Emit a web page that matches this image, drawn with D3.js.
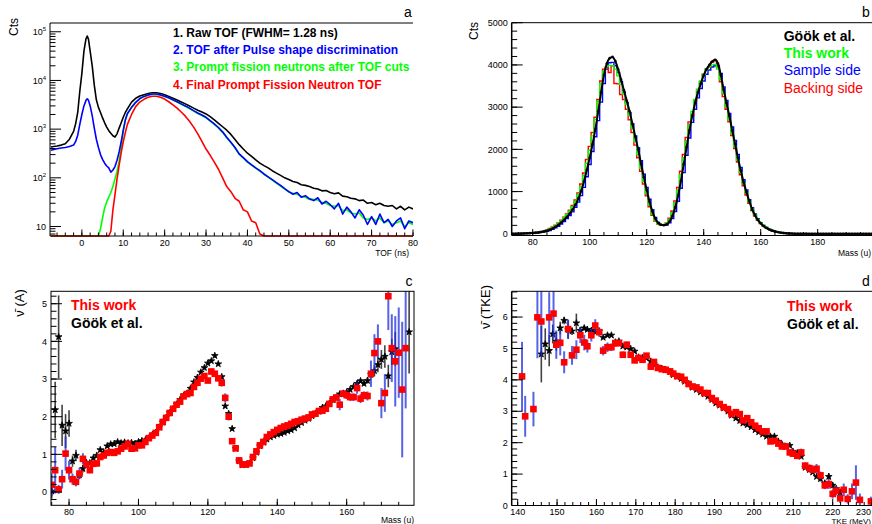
<!DOCTYPE html>
<html><head><meta charset="utf-8">
<script src="https://cdn.jsdelivr.net/npm/d3@7"></script>
<style>
body{margin:0;background:#fff}
svg{display:block}
text{font-family:"Liberation Sans",Arial,Helvetica,sans-serif;fill:#000}
</style>
</head><body>
<svg width="872" height="524"></svg>
<script>
// ---------------- Panel a : TOF spectra ----------------
const tofNs = [-7.5,-6,-5,-4,-3,-2,-1.5,-1,-0.5,0,0.5,1,1.3,1.6,2,2.5,3,3.5,4,4.5,5,5.5,6,6.5,7,7.5,8,8.5,9,9.5,10,10.5,11,
 12,13,14,15,16,17,18,19,20,21,22,23,24,25,26,27,28,29,30,31,32,33,34,35,36,37,38,39,40,41,42,43,44,45,46,
 47,48,49,50,51,52,53,54,55,56,57,58,59,60,61,62,63,64,65,66,67,68,69,70,71,72,73,74,75,76,77,78,79,80];
const rawTof = [430,450,470,500,620,900,1300,2200,6000,14000,40000,72000,82000,70000,40000,20000,8000,4000,2800,2200,1700,1350,1100,930,820,730,690,800,1050,1350,1750,2200,2600,
 3600,4300,4800,5100,5400,5600,5600,5400,5100,4700,4300,3950,3600,3300,3000,2700,2450,2250,2050,1800,
 1550,1320,1120,950,780,610,480,390,320,275,235,200,178,160,140,125,112,100,92,84,80,72,70,66,61,
 59,54,55,50,47,49,42,41,38,37,34,35,30,31,28,30,27,26,27,23,26,22,25,23];
const psdTof = [370,395,410,420,440,470,560,750,1250,2000,3000,3900,4200,3900,3000,1900,1050,620,420,300,240,200,175,160,130,145,170,230,340,550,950,1550,2100,
 2800,3550,4250,4700,5050,5250,5250,5050,4750,4400,4000,3650,3300,3000,2700,2400,2150,1950,1750,1500,
 1280,1080,880,680,540,420,310,260,215,185,160,140,120,105,92,80,70,60,52,46,50,40,43,37,34,
 39,29,33,28,23,30,18,25,20,15,22,17,11,16,11,18,12,14,10,13,15,9,13,12];
const promptTof = [0,0,0,0,0,0,0,0,0,0,0,0,0,0,0,0,0,0,0,9,15,24,32,40,50,66,95,135,220,420,900,1500,2050,
 2750,3500,4200,4650,5000,5200,5200,5000,4700,4350,3950,3600,3250,2950,2650,2350,2100,1900,1700,1460,
 1250,1050,860,660,530,410,305,255,210,182,158,137,118,103,90,78,68,59,51,48,46,42,40,36,36,
 35,31,30,27,26,27,21,22,19,18,19,15,14,15,13,15,12,13,11,12,13,10,12,11];
const finalTof = [0,0,0,0,0,0,0,0,0,0,0,0,0,0,0,0,0,0,0,0,0,0,0,4,8,22,45,95,180,330,550,850,1250,
 2000,2900,3600,4100,4500,4750,4750,4500,4150,3650,3150,2700,2250,1850,1450,1100,800,560,390,290,
 210,150,100,66,52,38,33,22,20,13,12,7,0,0,0,0,0,0,0,0,0,0,0,0,0,0,
 0,0,0,0,0,0,0,0,0,0,0,0,0,0,0,0,0,0,0,0,0,0,0,0];
const tofLegend = ["1. Raw TOF (FWHM= 1.28 ns)","2. TOF after Pulse shape discrimination","3. Prompt fission neutrons after TOF cuts","4. Final Prompt Fission Neutron TOF"];
const tofColors = ["#000000","#0000ff","#00ff00","#ff0000"];
const tofTickLabels = [0,10,20,30,40,50,60,70,80];
const tofDecades = [1,2,3,4,5];

// ---------------- Panel b : mass yield ----------------
const massBins = d3.range(73, 201);
const gookMass = [2,3,4,6,8,11,15,20,25,32, 42,55,70,95,125,165,210,265,330,400,
 480,575,690,830,1010,1240,1510,1800,2120,2480, 2900,3350,3760,4030,4160,4190,4090,3890,3650,3400,
 3150,2900,2600,2300,2000,1660,1340,1040,760,530, 360,260,215,205,225,290,420,620,900,1250,
 1650,2050,2450,2800,3100,3350,3560,3750,3900,4000, 4080,4120,4030,3760,3420,3100,2790,2450,2130,1800,
 1500,1220,990,770,580,440,330,250,185,140, 100,75,55,40,28,19,12,8,5,3,
 2,1,1,1,0,0,0,0,0,0, 0,0,0,0,0,0,0,0,0,0, 0,0,0,0,0,0,0,0];
const thisWorkMass = [3,4,6,8,10,14,19,25,32,40, 52,68,88,115,150,195,245,305,375,450,
 535,640,770,930,1130,1380,1670,1980,2320,2710, 3140,3560,3850,3960,3990,3980,3900,3740,3540,3310,
 3060,2800,2500,2190,1880,1550,1240,950,680,470, 320,240,205,210,250,340,500,730,1030,1400,
 1800,2200,2580,2900,3180,3420,3620,3780,3890,3960, 4000,4010,3900,3650,3320,3010,2700,2370,2060,1740,
 1450,1190,970,760,580,445,340,260,195,148, 110,82,60,44,31,21,14,9,6,4,
 2,1,1,0,0,0,0,0,0,0, 0,0,0,0,0,0,0,0,0,0, 0,0,0,0,0,0,0,0];
const sampleMass = [2,2,3,4,6,8,11,15,20,26, 34,45,58,78,105,140,180,230,290,360,
 435,520,625,750,905,1100,1350,1640,1950,2300, 2680,3120,3560,3900,4050,4060,3980,3820,3600,3360,
 3110,2870,2600,2320,2040,1730,1410,1100,820,570, 390,270,215,200,210,260,360,530,770,1080,
 1450,1860,2270,2640,2950,3220,3440,3620,3780,3880, 3950,3980,3990,3800,3480,3160,2850,2530,2210,1880,
 1570,1280,1040,810,620,470,355,265,200,150, 110,80,58,42,30,20,13,8,5,3,
 2,1,1,0,0,0,0,0,0,0, 0,0,0,0,0,0,0,0,0,0, 0,0,0,0,0,0,0,0];
const backingMass = [3,4,6,8,11,15,20,27,34,44, 57,74,96,125,160,205,260,320,395,470,
 560,670,800,970,1180,1440,1760,2070,2400,2760, 3180,3620,3900,3950,3820,3980,3560,3550,3300,3180,
 2950,2700,2400,2100,1800,1480,1180,900,640,440, 300,230,200,210,260,370,540,780,1100,1480,
 1880,2280,2650,2800,3150,3420,3600,3780,3900,3950, 4070,4100,3950,3600,3250,2950,2650,2330,2020,1700,
 1400,1140,920,720,550,420,320,245,185,140, 104,77,56,41,29,20,13,8,5,3,
 2,1,1,0,0,0,0,0,0,0, 0,0,0,0,0,0,0,0,0,0, 0,0,0,0,0,0,0,0];
const massLegend = ["Göök et al.","This work","Sample side","Backing side"];
const massTicks = [80,100,120,140,160,180];
const ctsTicks = [0,1000,2000,3000,4000,5000];

// ---------------- Panel c : nu-bar vs mass ----------------
const massRedC = d3.range(75, 178);
const nuRedC = [0.19,0.58,0.07,0.34,1.02,0.58,0.34,0.27,0.49,0.88,
 0.74,0.58,0.75,0.76,0.93,0.97,1.04,1.06,1.04,1.08,
 1.15,1.21,1.28,1.15,1.16,1.24,1.24,1.33,1.43,1.50,
 1.57,1.72,1.86,1.97,2.10,2.21,2.32,2.40,2.54,2.60,
 2.63,2.79,2.90,3.01,3.08,2.96,3.20,3.14,3.02,2.90,
 2.50,2.00,1.35,1.16,0.84,0.73,0.73,0.76,0.93,1.08,
 1.24,1.33,1.46,1.53,1.59,1.65,1.70,1.74,1.77,1.81,
 1.86,1.88,1.92,1.95,1.98,2.06,2.08,2.15,2.16,2.21,
 2.34,2.46,2.51,2.32,2.61,2.57,2.52,2.52,2.76,2.48,
 2.57,2.55,3.14,3.69,4.00,2.36,2.63,5.20,3.82,3.47,
 3.70,2.72,3.82];
const errRedC = [0.3,0.62,0.12,0.25,0.45,0.25,0.15,0.12,0.15,0.15,
 0.1,0.08,0.06,0.06,0.06,0.06,0.06,0.06,0.06,0.06,
 0.06,0.06,0.06,0.06,0.06,0.06,0.06,0.06,0.06,0.06,
 0.06,0.06,0.06,0.06,0.06,0.06,0.06,0.06,0.06,0.06,
 0.06,0.06,0.06,0.06,0.06,0.06,0.08,0.08,0.08,0.1,
 0.12,0.1,0.06,0.06,0.06,0.06,0.06,0.06,0.06,0.06,
 0.06,0.06,0.06,0.06,0.06,0.06,0.06,0.06,0.06,0.06,
 0.06,0.06,0.06,0.06,0.06,0.06,0.06,0.06,0.06,0.06,
 0.08,0.08,0.08,0.15,0.08,0.1,0.1,0.1,0.15,0.12,
 0.1,0.12,0.35,0.5,0.45,0.4,0.5,0.9,0.9,1.2,
 1.2,1.8,1.6];
const massBlackC = d3.range(75, 175).concat([178]);
const nuBlackC = [0.02,2.18,4.12,1.77,1.62,1.82,0.82,0.97,0.45,0.62,
 0.78,0.77,0.90,0.97,1.12,1.05,1.22,1.27,1.28,1.33,
 1.30,1.32,1.30,1.31,1.28,1.33,1.36,1.38,1.43,1.52,
 1.58,1.72,1.85,1.98,2.10,2.21,2.33,2.45,2.55,2.62,
 2.75,2.92,3.04,3.18,3.30,3.42,3.48,3.62,3.40,3.06,
 2.28,2.08,1.68,1.15,0.82,0.72,0.72,0.76,0.90,1.05,
 1.22,1.32,1.40,1.46,1.50,1.53,1.55,1.58,1.62,1.65,
 1.70,1.78,1.84,1.90,1.95,2.02,2.08,2.14,2.24,2.28,
 2.35,2.45,2.50,2.60,2.62,2.65,2.72,2.80,2.88,2.95,
 2.88,2.96,3.12,3.22,3.38,3.52,3.60,3.08,3.72,3.80,
 4.25];
const errBlackC = [0.2,0.75,1.1,0.55,0.45,0.35,0.15,0.15,0.1,0.1,
 0.05,0.05,0.05,0.05,0.05,0.05,0.05,0.05,0.05,0.05,
 0.05,0.05,0.05,0.05,0.05,0.05,0.05,0.05,0.05,0.05,
 0.05,0.05,0.05,0.05,0.05,0.05,0.05,0.05,0.05,0.05,
 0.05,0.05,0.05,0.05,0.05,0.05,0.05,0.05,0.05,0.05,
 0.05,0.05,0.05,0.05,0.05,0.05,0.05,0.05,0.05,0.05,
 0.05,0.05,0.05,0.05,0.05,0.05,0.05,0.05,0.05,0.05,
 0.05,0.05,0.05,0.05,0.05,0.05,0.05,0.05,0.05,0.05,
 0.05,0.05,0.05,0.05,0.05,0.05,0.05,0.05,0.05,0.05,
 0.06,0.08,0.1,0.15,0.2,0.25,0.3,0.3,0.35,0.45,
 1.1];
const massTicksC = [80,100,120,140,160];
const nuTicksC = [0,1,2,3,4,5];

// ---------------- Panel d : nu-bar vs TKE ----------------
const tkeRed = [141.1,141.9,144.0,145.0,146.0,148.0,149.1,149.8,150.8,151.8,152.8,153.8,154.9,155.9,156.9,157.7,158.7,159.7,160.7,161.7,
 162.8,163.8,164.8,165.7,166.7,167.7,168.7,169.7,170.7,171.7,172.7,173.8,174.6,175.6,176.6,177.6,178.7,179.5,180.5,181.5,
 182.4,183.4,184.4,185.4,186.4,187.4,188.3,189.3,190.3,191.3,192.3,193.4,194.3,195.4,196.4,197.2,198.3,199.3,200.3,201.2,
 202.2,203.2,204.2,205.2,206.2,207.1,208.1,209.1,209.9,211.0,212.0,213.0,214.1,214.9,215.9,216.9,218.0,219.0,220.0,220.9,
 221.9,222.8,223.8,224.9,225.9,226.9,229.7];
const nuRedD = [4.11,2.84,3.07,5.99,5.86,5.99,6.11,5.12,5.18,4.56,5.62,4.78,4.96,5.42,5.19,5.07,5.42,5.73,5.52,4.93,
 5.04,5.04,5.17,5.17,4.80,5.12,4.80,4.62,4.70,4.64,4.77,4.42,4.57,4.38,4.34,4.32,4.27,4.20,4.12,4.10,
 4.00,3.87,3.79,3.76,3.69,3.58,3.58,3.42,3.34,3.23,3.13,3.07,2.91,2.97,2.91,2.71,2.78,2.65,2.54,2.46,
 2.36,2.36,2.04,2.06,1.97,1.88,1.88,1.69,1.65,1.58,1.69,1.27,1.19,1.14,1.17,0.96,0.64,0.68,0.37,0.47,
 0.23,0.50,0.21,0.45,0.73,0.18,0.13];
const errRedD = [1.1,0.65,0.55,1.3,1.1,0.8,0.8,0.45,0.4,0.35,0.3,0.3,0.3,0.25,0.25,0.2,0.2,0.2,0.15,0.15,
 0.15,0.12,0.12,0.1,0.1,0.1,0.08,0.08,0.08,0.07,0.07,0.07,0.07,0.07,0.06,0.06,0.06,0.06,0.06,0.06,
 0.06,0.06,0.06,0.06,0.06,0.06,0.06,0.06,0.06,0.06,0.06,0.06,0.06,0.06,0.06,0.06,0.06,0.06,0.06,0.06,
 0.06,0.06,0.06,0.06,0.06,0.06,0.07,0.07,0.08,0.08,0.12,0.1,0.12,0.1,0.15,0.12,0.12,0.15,0.15,0.15,
 0.15,0.2,0.15,0.25,0.55,0.2,0.15];
const tkeBlack = [146.0,147.0,148.0,148.9,149.8,150.8,151.8,152.8,153.8,154.9,155.9,156.9,157.7,158.7,159.7,160.7,161.7,162.8,163.8,164.8,
 165.7,166.7,167.7,168.7,169.7,170.7,171.7,172.7,173.8,174.6,175.6,176.6,177.6,178.7,179.5,180.5,181.5,182.4,183.4,184.4,
 185.4,186.4,187.4,188.3,189.3,190.3,191.3,192.3,193.4,194.3,195.4,196.4,197.2,198.3,199.3,200.3,201.2,202.2,203.2,204.2,
 205.2,206.2,207.1,208.1,209.1,209.9,211.0,212.0,213.0,214.1,214.9,215.9,216.9,218.0,219.0,220.0,220.9,221.9];
const nuBlackD = [4.82,5.14,4.93,5.46,5.23,5.65,5.89,5.60,5.55,5.81,5.57,5.65,5.60,5.57,5.52,5.55,5.35,5.42,5.42,5.20,
 5.23,5.07,5.04,4.99,4.91,4.72,4.70,4.70,4.59,4.50,4.40,4.36,4.32,4.25,4.16,4.11,4.04,3.95,3.87,3.76,
 3.69,3.61,3.55,3.47,3.37,3.26,3.19,3.10,3.00,2.87,2.78,2.70,2.62,2.57,2.50,2.41,2.34,2.27,2.20,2.20,
 2.20,2.04,1.95,1.88,1.91,1.72,1.67,1.56,1.21,1.14,1.06,0.92,0.85,0.71,0.92,0.64,0.53,0.42];
const errBlackD = [0.9,0.5,0.5,0.3,0.3,0.2,0.12,0.3,0.12,0.3,0.12,0.08,0.05,0.05,0.05,0.05,0.05,0.05,0.05,0.05,
 0.05,0.05,0.05,0.05,0.05,0.05,0.05,0.05,0.05,0.05,0.05,0.05,0.05,0.05,0.05,0.05,0.05,0.05,0.05,0.05,
 0.05,0.05,0.05,0.05,0.05,0.05,0.05,0.05,0.05,0.05,0.05,0.05,0.05,0.05,0.05,0.05,0.05,0.05,0.05,0.05,
 0.05,0.05,0.05,0.05,0.05,0.05,0.05,0.05,0.05,0.05,0.05,0.05,0.08,0.08,0.1,0.1,0.1,0.1];
const tkeTicks = [140,150,160,170,180,190,200,210,220,230];
const nuTicksD = [0,1,2,3,4,5,6];
const nuLegend = ["This work","Göök et al."];

// =============== drawing ===============
const svg = d3.select("svg");
const FS = 9;

function yTicks(g, scale, x0, majors, minors, majLen, minLen, labels) {
  const t = g.append("g").attr("stroke","#000").attr("stroke-width",1);
  t.selectAll(".mi").data(minors).join("line").attr("class","mi")
    .attr("x1",x0).attr("x2",x0+minLen).attr("y1",d=>scale(d)).attr("y2",d=>scale(d));
  t.selectAll(".ma").data(majors).join("line").attr("class","ma")
    .attr("x1",x0).attr("x2",x0+majLen).attr("y1",d=>scale(d)).attr("y2",d=>scale(d));
  if (labels) g.append("g").selectAll("text").data(majors).join("text")
    .attr("x",x0-4).attr("y",d=>scale(d)).attr("dy","0.35em").attr("text-anchor","end")
    .attr("font-size",FS).attr("fill","#111").text((d,i)=>labels[i]);
}
function xTicks(g, scale, y0, majors, minors, majLen, minLen, labels, anchors) {
  const t = g.append("g").attr("stroke","#000").attr("stroke-width",1);
  t.selectAll(".mi").data(minors).join("line").attr("class","mi")
    .attr("y1",y0).attr("y2",y0-minLen).attr("x1",d=>scale(d)).attr("x2",d=>scale(d));
  t.selectAll(".ma").data(majors).join("line").attr("class","ma")
    .attr("y1",y0).attr("y2",y0-majLen).attr("x1",d=>scale(d)).attr("x2",d=>scale(d));
  if (labels) g.append("g").selectAll("text").data(majors).join("text")
    .attr("x",d=>Math.min(scale(d), 871)).attr("y",y0+9.5)
    .attr("text-anchor",d=>scale(d)>860?"end":"middle")
    .attr("font-size",FS).attr("fill","#111").text((d,i)=>labels[i]);
}
function clip(id, x, y, w, h) {
  svg.append("clipPath").attr("id",id).append("rect").attr("x",x).attr("y",y).attr("width",w).attr("height",h);
}
function rangeStep(a, b, s) { const r=[]; for (let v=a; v<=b+1e-9; v+=s) r.push(+v.toFixed(4)); return r; }

// ---------- Panel a ----------
{
  const L=50, R=413, T=23, B=236;
  const x = d3.scaleLinear([-7.7, 80],[L, R]);
  const yMin = Math.pow(10,0.805), yMax = Math.pow(10,5.18);
  const y = d3.scaleLog([yMin, yMax],[B, T]).clamp(true);
  const g = svg.append("g");
  clip("ca", L, T, R-L, B-T+1);
  const series = [rawTof, promptTof, psdTof, finalTof];
  const cols = ["#000000","#00ff00","#0000ff","#ff0000"];
  const line = d3.line().x((d,i)=>x(tofNs[i])).y(d=>y(d>0?d:yMin));
  const pg = g.append("g").attr("clip-path","url(#ca)");
  series.forEach((s,k)=>{
    pg.append("path").datum(s).attr("d",line).attr("fill","none")
      .attr("stroke",cols[k]).attr("stroke-width",1.6).attr("stroke-linejoin","round");
  });
  g.append("line").attr("x1",L).attr("x2",L).attr("y1",T).attr("y2",B).attr("stroke","#000");
  g.append("line").attr("x1",L).attr("x2",R).attr("y1",B).attr("y2",B).attr("stroke","#000");
  g.append("line").attr("x1",L).attr("x2",R).attr("y1",T).attr("y2",T).attr("stroke","#000");
  const majors = tofDecades.map(k=>Math.pow(10,k));
  const minors = [];
  for (let k=0;k<=5;k++) for (let m=2;m<=9;m++){ const v=m*Math.pow(10,k); if(v>=yMin&&v<=yMax) minors.push(v); }
  yTicks(g, y, L, majors, minors, 11, 5.5, null);
  const lab = g.append("g");
  tofDecades.forEach(k=>{
    const t = lab.append("text").attr("x",L-4).attr("y",y(Math.pow(10,k))).attr("dy","0.35em")
      .attr("text-anchor","end").attr("font-size",FS).attr("fill","#111");
    t.append("tspan").text("10");
    if (k>1) t.append("tspan").attr("dy","-4").attr("font-size",6).text(k);
  });
  xTicks(g, x, B, tofTickLabels, rangeStep(-6, 80, 2), 6.5, 3.5, tofTickLabels.map(String));
  g.append("text").attr("x",R-4).attr("y",256).attr("text-anchor","end").attr("font-size",8.5).attr("fill","#222").text("TOF (ns)");
  g.append("text").attr("transform","translate(18,27) rotate(-90)").attr("text-anchor","middle")
    .attr("font-size",12).text("Cts");
  g.append("text").attr("x",408).attr("y",17).attr("text-anchor","middle").attr("font-size",14)
    .attr("font-family","Liberation Serif, Times New Roman, serif").text("a");
  const ly = [32.5, 50, 67, 84.3];
  tofLegend.forEach((t,i)=>{
    g.append("text").attr("x",173).attr("y",ly[i]).attr("dy","0.35em").attr("font-size",12)
      .attr("font-weight","bold").style("fill",tofColors[i]).text(t);
  });
}

// ---------- Panel b ----------
{
  const L=511.7, R=872, T=22.7, B=235.5;
  const x = d3.scaleLinear([80,180],[532.7,817.7]);
  const y = d3.scaleLinear([-40,5000],[B,T]);
  const g = svg.append("g");
  clip("cb", L, T, R-L, B-T);
  const pg = g.append("g").attr("clip-path","url(#cb)");
  const step = d3.line().x((d,i)=>x(massBins[i])).y(d=>y(d)).curve(d3.curveStep);
  [[sampleMass,"#0000ff"],[backingMass,"#ff0000"],[thisWorkMass,"#00ff00"]].forEach(([s,c])=>{
    pg.append("path").datum(s).attr("d",step).attr("fill","none").attr("stroke",c).attr("stroke-width",1.4);
  });
  const ln = d3.line().x((d,i)=>x(massBins[i])).y(d=>y(d)).curve(d3.curveMonotoneX);
  pg.append("path").datum(gookMass).attr("d",ln).attr("fill","none").attr("stroke","#000").attr("stroke-width",2);
  pg.append("g").selectAll("circle").data(gookMass).join("circle")
    .attr("cx",(d,i)=>x(massBins[i])).attr("cy",d=>y(d)).attr("r",1.4).attr("fill","#000").attr("opacity",0.8);
  g.append("line").attr("x1",L).attr("x2",L).attr("y1",T).attr("y2",B).attr("stroke","#000").attr("stroke-width",1.5);
  g.append("line").attr("x1",L).attr("x2",R).attr("y1",B).attr("y2",B).attr("stroke","#000");
  g.append("line").attr("x1",L).attr("x2",R).attr("y1",T).attr("y2",T).attr("stroke","#000");
  yTicks(g, y, L, ctsTicks, rangeStep(0,5000,200), 11, 5.5, ctsTicks.map(String));
  xTicks(g, x, B, massTicks, rangeStep(75,200,5), 6.5, 3.5, massTicks.map(String));
  g.append("text").attr("x",871).attr("y",256).attr("text-anchor","end").attr("font-size",8.5).attr("fill","#222").text("Mass (u)");
  g.append("text").attr("transform","translate(478,31) rotate(-90)").attr("text-anchor","middle").attr("font-size",12).text("Cts");
  g.append("text").attr("x",866).attr("y",17).attr("text-anchor","middle").attr("font-size",14)
    .attr("font-family","Liberation Serif, Times New Roman, serif").text("b");
  const cols = ["#000000","#00ff00","#0000ff","#ff0000"], ws=["bold","bold","normal","normal"], ly=[36,53.3,70.5,88.3];
  massLegend.forEach((t,i)=>{
    g.append("text").attr("x",783.7).attr("y",ly[i]).attr("dy","0.35em").attr("font-size",14)
      .attr("font-weight",ws[i]).style("fill",cols[i]).text(t);
  });
}

// ---------- helper for nu panels ----------
function nuPoints(pg, x, y, xs, vs, es, kind) {
  if (kind==="black") {
    pg.append("g").selectAll("line").data(vs).join("line")
      .attr("x1",(d,i)=>x(xs[i])).attr("x2",(d,i)=>x(xs[i]))
      .attr("y1",(d,i)=>y(d-es[i])).attr("y2",(d,i)=>y(d+es[i]))
      .attr("stroke","#222").attr("stroke-width",1.6).attr("opacity",0.85);
    pg.append("g").selectAll("path").data(vs).join("path")
      .attr("transform",(d,i)=>`translate(${x(xs[i])},${y(d)})`)
      .attr("d",d3.symbol(d3.symbolStar,14)).attr("fill","#000").attr("stroke","#000").attr("stroke-width",0.8);
  } else {
    pg.append("g").selectAll("line").data(vs).join("line")
      .attr("x1",(d,i)=>x(xs[i])).attr("x2",(d,i)=>x(xs[i]))
      .attr("y1",(d,i)=>y(d-es[i])).attr("y2",(d,i)=>y(d+es[i]))
      .attr("stroke","#2030e0").attr("stroke-width",2).attr("opacity",0.75);
    pg.append("g").selectAll("rect").data(vs).join("rect")
      .attr("x",(d,i)=>x(xs[i])-3.3).attr("y",d=>y(d)-3.3).attr("width",6.6).attr("height",6.6)
      .attr("fill","#ff0000");
  }
}

// ---------- Panel c ----------
{
  const L=51, R=414, T=291.3, B=505.3;
  const x = d3.scaleLinear([74.8,179.4],[L,R]);
  const y = d3.scaleLinear([-0.353,5.33],[B,T]);
  const g = svg.append("g");
  clip("cc", L, T, R-L, B-T);
  const pg = g.append("g").attr("clip-path","url(#cc)");
  nuPoints(pg, x, y, massBlackC, nuBlackC, errBlackC, "black");
  nuPoints(pg, x, y, massRedC, nuRedC, errRedC, "red");
  g.append("rect").attr("x",L).attr("y",T).attr("width",R-L).attr("height",B-T).attr("fill","none").attr("stroke","#000");
  yTicks(g, y, L, nuTicksC, rangeStep(-0.2,5.2,0.2), 11, 5.5, nuTicksC.map(String));
  xTicks(g, x, B, massTicksC, rangeStep(75,175,5), 6.5, 3.5, massTicksC.map(String));
  g.append("text").attr("x",R).attr("y",523).attr("text-anchor","end").attr("font-size",8.5).attr("fill","#222").text("Mass (u)");
  g.append("text").attr("transform","translate(24,303) rotate(-90)").attr("text-anchor","middle").attr("font-size",13)
    .text("ν̄ (A)");
  g.append("text").attr("x",409).attr("y",286).attr("text-anchor","middle").attr("font-size",14)
    .attr("font-family","Liberation Serif, Times New Roman, serif").text("c");
  g.append("text").attr("x",71).attr("y",305.3).attr("dy","0.35em").attr("font-size",14).attr("font-weight","bold").style("fill","#ff0000").text(nuLegend[0]);
  g.append("text").attr("x",71).attr("y",323).attr("dy","0.35em").attr("font-size",14).attr("font-weight","bold").style("fill","#000").text(nuLegend[1]);
}

// ---------- Panel d ----------
{
  const L=511.7, R=872, T=291.3, B=505.5;
  const x = d3.scaleLinear([140,220],[517.7,832.7]);
  const y = d3.scaleLinear([0,6.82],[B,T]);
  const g = svg.append("g");
  clip("cd", L, T, R-L, B-T);
  const pg = g.append("g").attr("clip-path","url(#cd)");
  nuPoints(pg, x, y, tkeBlack, nuBlackD, errBlackD, "black");
  nuPoints(pg, x, y, tkeRed, nuRedD, errRedD, "red");
  g.append("line").attr("x1",L).attr("x2",L).attr("y1",T).attr("y2",B).attr("stroke","#000").attr("stroke-width",1.5);
  g.append("line").attr("x1",L).attr("x2",R).attr("y1",B).attr("y2",B).attr("stroke","#000");
  g.append("line").attr("x1",L).attr("x2",R).attr("y1",T).attr("y2",T).attr("stroke","#000");
  yTicks(g, y, L, nuTicksD, rangeStep(0,6.8,0.2), 11, 5.5, nuTicksD.map(String));
  xTicks(g, x, B, tkeTicks, rangeStep(140,234,2), 6.5, 3.5, tkeTicks.map(String));
  g.append("text").attr("x",871).attr("y",523.5).attr("text-anchor","end").attr("font-size",8).attr("fill","#222").text("TKE (MeV)");
  g.append("text").attr("transform","translate(490,307) rotate(-90)").attr("text-anchor","middle").attr("font-size",13)
    .text("ν̄ (TKE)");
  g.append("text").attr("x",866).attr("y",286).attr("text-anchor","middle").attr("font-size",14)
    .attr("font-family","Liberation Serif, Times New Roman, serif").text("d");
  g.append("text").attr("x",787).attr("y",306).attr("dy","0.35em").attr("font-size",14).attr("font-weight","bold").style("fill","#ff0000").text(nuLegend[0]);
  g.append("text").attr("x",787).attr("y",323.7).attr("dy","0.35em").attr("font-size",14).attr("font-weight","bold").style("fill","#000").text(nuLegend[1]);
}
</script>
</body></html>
